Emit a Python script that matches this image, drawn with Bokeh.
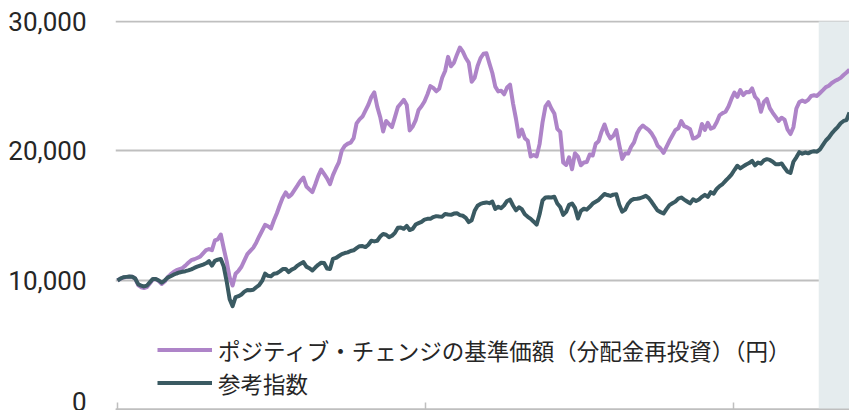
import pandas as pd
from bokeh.plotting import figure
from bokeh.models import (Range1d, BoxAnnotation, NumeralTickFormatter, FixedTicker,
                          Legend, LegendItem)
from bokeh.embed import file_html
from bokeh.resources import INLINE

# ---------------- data ----------------
start_date = "2019-06-13"
tick_dates = ["2019-06-13", "2021-06-13", "2023-06-13"]
shade_start = "2024-01-01"
y_ticks = [0, 10000, 20000, 30000]
fund_label = "ポジティブ・チェンジの基準価額（分配金再投資）（円）"
index_label = "参考指数"

fund = [
    10000, 10150, 10230, 10260, 10290, 10290, 10150, 9650, 9480, 9420,
    9490, 9780, 10090, 10090, 9960, 9730, 9920, 10250, 10470, 10660,
    10800, 10880, 10960, 11150, 11370, 11570, 11640, 11740, 11840, 12090,
    12340, 12430, 12340, 13090, 13180, 13550, 12470, 11470, 10230, 9610,
    10520, 10750, 11060, 11550, 12030, 12280, 12530, 12920, 13400, 13840,
    14300, 14190, 14020, 14650, 15190, 15830, 16400, 16800, 16460, 16650,
    17000, 17340, 17700, 17950, 17260, 17040, 16820, 17410, 18060, 18560,
    18230, 17890, 17440, 18140, 18650, 19120, 20040, 20400, 20560, 20640,
    20990, 22130, 22440, 22660, 23120, 23570, 24170, 24520, 23430, 22630,
    21510, 22320, 22080, 21850, 22610, 23400, 23670, 23950, 23550, 21590,
    21890, 22360, 23170, 23450, 23820, 24360, 25010, 24870, 24610, 24800,
    25650, 26180, 27270, 26540, 26820, 27440, 27990, 27670, 27180, 26830,
    25350, 25650, 26570, 27170, 27510, 27550, 26770, 26020, 24970, 24600,
    24660, 24380, 24900, 25120, 23680, 22490, 21110, 21650, 20990, 20790,
    19570, 19690, 19580, 20530, 22210, 23440, 23770, 23280, 22900, 21710,
    21480, 19110, 18920, 19510, 18590, 19830, 19570, 18900, 19110, 19150,
    19730, 19650, 20550, 20750, 21490, 22050, 21370, 20960, 21170, 21610,
    20460, 19390, 19800, 19800, 20320, 20670, 21350, 21750, 21970, 21780,
    21610, 21340, 20950, 20410, 20190, 19850, 20320, 20790, 21200, 21610,
    21760, 22310, 21920, 21830, 21680, 20960, 21040, 21200, 22090, 21630,
    22180, 21720, 21820, 22220, 22760, 22930, 23030, 23440, 24020, 24510,
    24180, 24700, 24320, 24550, 24530, 24840, 24190, 23940, 23030, 23790,
    24020, 23310, 22950, 22630, 22320, 22570, 22420, 21660, 21310, 21840,
    23280, 23780, 23890, 23790, 23950, 24250, 24300, 24250, 24480, 24700,
    24930, 25040, 25250, 25400, 25510, 25650, 25870, 26060, 26290,
]

index_vals = [
    10000, 10150, 10250, 10280, 10300, 10290, 10150, 9720, 9600, 9540,
    9610, 9870, 10120, 10120, 10000, 9830, 10000, 10220, 10330, 10450,
    10540, 10620, 10670, 10720, 10780, 10860, 10970, 11070, 11150, 11230,
    11330, 11490, 11150, 11510, 11610, 11660, 11080, 9920, 8550, 8020,
    8710, 8790, 8920, 9140, 9270, 9250, 9290, 9480, 9650, 9970,
    10530, 10360, 10320, 10520, 10560, 10710, 10880, 10890, 10650, 10840,
    10950, 11150, 11300, 11420, 11070, 10950, 10770, 11000, 11210, 11370,
    11350, 10930, 10890, 11670, 11740, 11890, 12040, 12120, 12170, 12280,
    12330, 12500, 12650, 12660, 12580, 12760, 13070, 13020, 13070, 13390,
    13590, 13530, 13350, 13460, 13680, 14070, 14090, 13990, 14220, 13900,
    13980, 14320, 14430, 14530, 14700, 14760, 14760, 14900, 14970, 14940,
    14930, 15140, 15100, 15070, 15170, 15200, 15050, 15000, 14840, 14510,
    14650, 15380, 15770, 15920, 15990, 16030, 15970, 16090, 15520, 15700,
    15590, 15810, 16140, 16240, 15790, 15420, 15650, 15510, 15110, 14920,
    14760, 14540, 14310, 15110, 16180, 16410, 16430, 16410, 16470, 15950,
    15680, 15070, 15300, 15840, 15950, 15610, 14790, 15380, 15540, 15470,
    15690, 15940, 16080, 16220, 16460, 16680, 16600, 16530, 16630, 16660,
    15850, 15310, 15470, 15930, 16190, 16300, 16310, 16350, 16440, 16540,
    16360, 16060, 15720, 15400, 15280, 15170, 15510, 15820, 15960, 16090,
    16320, 16410, 16250, 16100, 15950, 16270, 16140, 16260, 16460, 16620,
    16460, 16820, 16710, 17070, 17290, 17450, 17700, 17920, 18180, 18530,
    18860, 18660, 18810, 18960, 19070, 19230, 18890, 19110, 19020, 19270,
    19370, 19310, 19170, 18970, 18970, 19040, 18700, 18400, 18300, 19170,
    19510, 19910, 19790, 19880, 19820, 19930, 19980, 19950, 20130, 20470,
    20810, 21040, 21360, 21620, 21850, 22140, 22320, 22390, 22970,
]

# ---------------- build ----------------
dates = pd.date_range(start_date, periods=len(fund), freq="7D")


def ms(d):
    return pd.Timestamp(d).value / 1e6


x_start = ms(dates[0]) - 4.7 * 86400000
x_end = ms(dates[-1])

GRID = "#BFBFBF"
TEXT = "#262626"
PURPLE = "#AE84C8"
DARK = "#3A5A62"

p = figure(width=849, height=410, x_axis_type="datetime",
           output_backend="svg", toolbar_location=None,
           x_range=Range1d(x_start, x_end), y_range=Range1d(-39, 30077),
           min_border_left=115, min_border_right=0,
           min_border_top=20, min_border_bottom=0)
p.outline_line_color = None
p.background_fill_color = "white"
p.border_fill_color = "white"

# x axis: baseline at 0 with inward ticks, labels hidden
xa = p.xaxis[0]
xa.ticker = FixedTicker(ticks=[ms(d) for d in tick_dates])
xa.fixed_location = 0
xa.major_label_text_font_size = "0px"
xa.major_label_text_alpha = 0
xa.major_tick_in = 7
xa.major_tick_out = 0
xa.minor_tick_in = 0
xa.minor_tick_out = 0
xa.axis_line_color = GRID
xa.axis_line_width = 2
xa.major_tick_line_color = GRID
xa.major_tick_line_width = 1.5

ya = p.yaxis[0]
ya.ticker = FixedTicker(ticks=y_ticks)
ya.formatter = NumeralTickFormatter(format="0,0")
ya.axis_line_color = None
ya.major_tick_line_color = None
ya.minor_tick_line_color = None
ya.major_tick_out = 0
ya.major_tick_in = 0
ya.major_label_standoff = 29
ya.major_label_text_font = "Roboto"
ya.major_label_text_font_size = "26px"
ya.major_label_text_color = TEXT

p.xgrid.grid_line_color = None
p.ygrid.ticker = FixedTicker(ticks=y_ticks)
p.ygrid.grid_line_color = GRID
p.ygrid.grid_line_width = 2

shade = BoxAnnotation(left=ms(shade_start), right=x_end, top=30000, bottom=-39,
                      fill_color="#E5ECEE", fill_alpha=1.0, line_color=None,
                      level="underlay")
p.add_layout(shade)

r1 = p.line(dates, fund, line_color=PURPLE, line_width=4, line_join="round")
r2 = p.line(dates, index_vals, line_color=DARK, line_width=4, line_join="round")

legend = Legend(items=[LegendItem(label=fund_label, renderers=[r1]),
                       LegendItem(label=index_label, renderers=[r2])],
                location=(42, 11), orientation="vertical",
                glyph_width=55, glyph_height=33, label_height=33,
                label_standoff=6, spacing=0, padding=0, margin=0,
                border_line_alpha=0, background_fill_alpha=0,
                label_text_font="Noto Sans CJK JP",
                label_text_font_size="22.5px", label_text_color=TEXT)
p.add_layout(legend)

with open("out.html", "w", encoding="utf-8") as f:
    f.write(file_html(p, INLINE, title="chart"))
